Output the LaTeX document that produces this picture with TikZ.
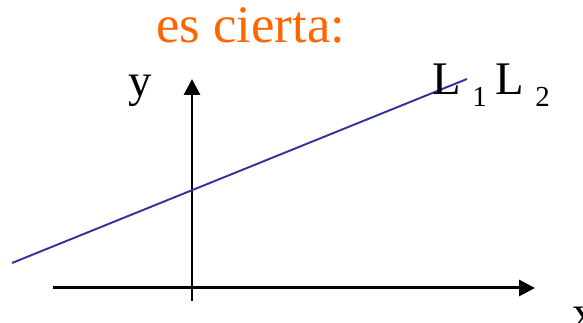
\documentclass[tikz,border=0pt]{standalone}
\usepackage{fontspec}
\setmainfont{Liberation Serif}
\usetikzlibrary{arrows.meta, positioning}
\definecolor{titleorange}{RGB}{255,102,0}
\definecolor{lineblue}{RGB}{51,51,153}

\begin{document}
\begin{tikzpicture}[x=0.02cm, y=-0.02cm, >={Triangle[length=9pt, width=9pt]}]
  \tikzset{
    axis/.style={->, line width=1.7pt},
    lbl/.style={inner sep=0pt, anchor=base west, font=\fontsize{26.6}{30}\selectfont},
    sub/.style={inner sep=0pt, anchor=base west, font=\fontsize{16.5}{19}\selectfont}
  }
  \useasboundingbox (0,0) rectangle (583,323);
  \pgfmathsetmacro{\xO}{192}
  \pgfmathsetmacro{\yO}{288}

  \coordinate (xstart) at (53,\yO);
  \coordinate (xend) at (535,\yO);
  \coordinate (ystart) at (\xO,301);
  \coordinate (yend) at (\xO,79);
  \coordinate (lstart) at (12,263);
  \coordinate (lend) at (467,79);

  \draw[axis] (xstart) -- (xend);
  \draw[axis] (ystart) -- (yend);
  \draw[lineblue, line width=1.1pt] (lstart) -- (lend);

  \node[lbl, text=titleorange, font=\fontsize{30}{34}\selectfont] (title) at (156,43) {es cierta:};
  \node[lbl] (ylabel) at (128,97) {y};
  \node[lbl] (xlabel) at (572,329) {x};
  \node[lbl] (Lone) at (432,95) {L};
  \node[sub] (one) at (472,107) {1};
  \node[lbl] (Ltwo) at (495,95) {L};
  \node[sub] (two) at (535,107) {2};
\end{tikzpicture}
\end{document}
